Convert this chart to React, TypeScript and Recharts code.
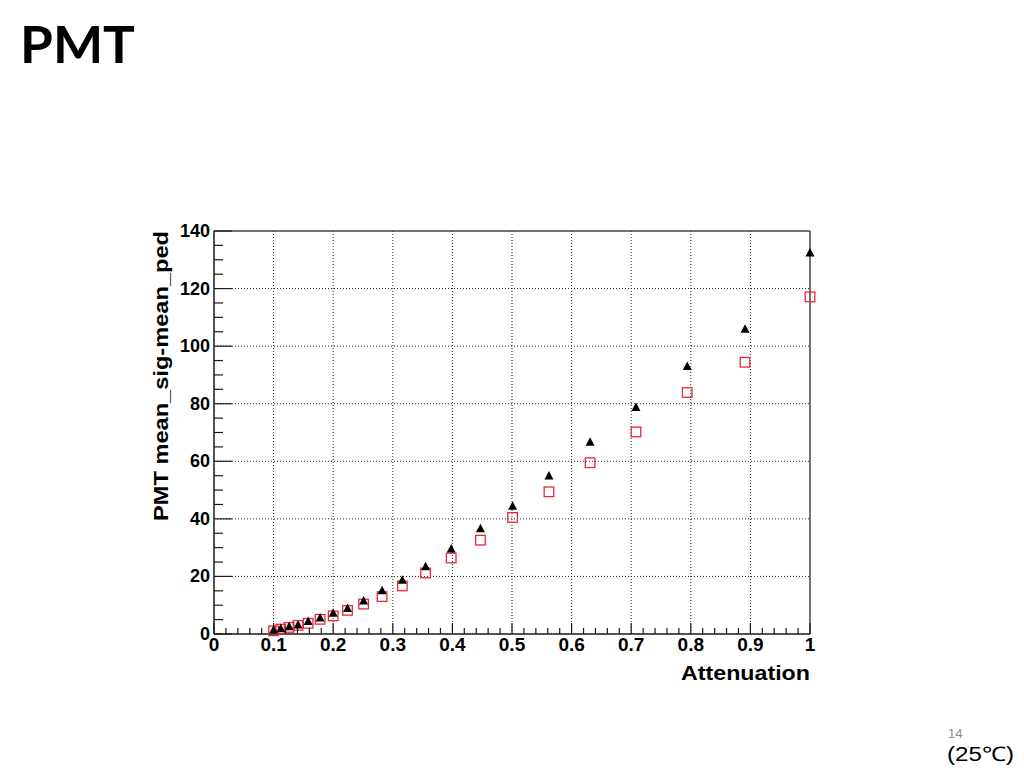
import {
  CartesianGrid,
  Label,
  ReferenceLine,
  Scatter,
  ScatterChart,
  XAxis,
  YAxis,
} from "recharts";

const ATTENUATION = [
  0.1, 0.112, 0.126, 0.141, 0.158, 0.178, 0.2, 0.224, 0.251, 0.282, 0.316,
  0.355, 0.398, 0.447, 0.501, 0.562, 0.631, 0.708, 0.794, 0.891, 1,
];
const SIGNAL_TRIANGLE = [
  1.4, 1.8, 2.5, 3.1, 4.3, 5.6, 7.2, 8.9, 11.5, 15.0, 18.7, 23.4, 29.5, 36.6,
  44.4, 54.9, 66.6, 78.7, 92.9, 105.9, 132.4,
];
const SIGNAL_SQUARE = [
  1.1, 1.7, 2.3, 3.0, 3.7, 5.1, 6.3, 8.2, 10.4, 13.0, 16.7, 21.2, 26.4, 32.6,
  40.5, 49.4, 59.5, 70.2, 83.9, 94.4, 117.1,
];

const X_MAJOR = [0, 0.1, 0.2, 0.3, 0.4, 0.5, 0.6, 0.7, 0.8, 0.9, 1];
const X_TICK_LABELS = ["0", "0.1", "0.2", "0.3", "0.4", "0.5", "0.6", "0.7", "0.8", "0.9", "1"];
const Y_MAJOR = [0, 20, 40, 60, 80, 100, 120, 140];
const Y_TICK_LABELS = ["0", "20", "40", "60", "80", "100", "120", "140"];
const X_GRID = [0.1, 0.2, 0.3, 0.4, 0.5, 0.6, 0.7, 0.8, 0.9];
const Y_GRID = [20, 40, 60, 80, 100, 120];

// 4 minor ticks between x majors, 3 between y majors
const xTicks: number[] = [];
X_MAJOR.forEach((v, i) => {
  xTicks.push(v);
  if (i < X_MAJOR.length - 1) {
    for (let k = 1; k < 5; k++) xTicks.push(+(v + (k * 0.1) / 5).toFixed(3));
  }
});
const yTicks: number[] = [];
Y_MAJOR.forEach((v, i) => {
  yTicks.push(v);
  if (i < Y_MAJOR.length - 1) {
    for (let k = 1; k < 4; k++) yTicks.push(v + k * 5);
  }
});

const triangles = ATTENUATION.map((x, i) => ({ x, y: SIGNAL_TRIANGLE[i] }));
const squares = ATTENUATION.map((x, i) => ({ x, y: SIGNAL_SQUARE[i] }));

const ROOT_FONT = "'Liberation Sans', Arial, Helvetica, sans-serif";
const AXIS_COLOR = "#1a1a1a";

const XTick = (props: any) => {
  const { x, y, payload } = props;
  const idx = X_MAJOR.findIndex((m) => Math.abs(m - payload.value) < 1e-6);
  const major = idx >= 0;
  return (
    <g>
      <line x1={x} x2={x} y1={y} y2={y - (major ? 11 : 6)} stroke={AXIS_COLOR} strokeWidth={1.2} />
      {major && (
        <text
          x={x}
          y={y + 17}
          textAnchor="middle"
          fontFamily={ROOT_FONT}
          fontWeight={700}
          fontSize={19}
          fill="#000"
        >
          {X_TICK_LABELS[idx]}
        </text>
      )}
    </g>
  );
};

const YTick = (props: any) => {
  const { x, y, payload } = props;
  const idx = Y_MAJOR.indexOf(payload.value);
  const major = idx >= 0;
  return (
    <g>
      <line x1={x} x2={x + (major ? 18 : 9)} y1={y} y2={y} stroke={AXIS_COLOR} strokeWidth={1.2} />
      {major && (
        <text
          x={x - 4}
          y={y + 6}
          textAnchor="end"
          fontFamily={ROOT_FONT}
          fontWeight={700}
          fontSize={18}
          fill="#000"
        >
          {Y_TICK_LABELS[idx]}
        </text>
      )}
    </g>
  );
};

const Triangle = (props: any) => {
  const { cx, cy } = props;
  return (
    <path
      d={`M${cx},${cy - 5} L${cx + 4.5},${cy + 3.5} L${cx - 4.5},${cy + 3.5} Z`}
      fill="#000"
    />
  );
};

const OpenSquare = (props: any) => {
  const { cx, cy } = props;
  return (
    <rect x={cx - 4.8} y={cy - 4.8} width={9.6} height={9.6} fill="none" stroke="#e8283c" strokeWidth={1.3} />
  );
};

export default function App() {
  return (
    <div style={{ position: "absolute", left: 0, top: 0, width: 1024, height: 768, background: "#fff" }}>
      <svg width={1024} height={768} style={{ position: "absolute", left: 0, top: 0 }}>
        <text
          x={20}
          y={63}
          fontFamily="Lato, 'Open Sans', sans-serif"
          fontWeight={700}
          fontSize={52}
          textLength={115}
          lengthAdjust="spacingAndGlyphs"
          fill="#000"
        >
          PMT
        </text>
        <text x={948} y={738} fontFamily="'Liberation Sans', Arial, sans-serif" fontSize={13} fill="#8c8c8c">
          14
        </text>
        <text
          x={947}
          y={761}
          fontFamily="'Liberation Sans', Arial, sans-serif"
          fontSize={20}
          fill="#000"
          textLength={67}
          lengthAdjust="spacingAndGlyphs"
        >
          (25℃)
        </text>
      </svg>
      <div style={{ position: "absolute", left: 0, top: 0 }}>
        <ScatterChart
          width={1024}
          height={768}
          margin={{ top: 231, right: 214, bottom: 104, left: 154 }}
        >
          <CartesianGrid
            horizontalValues={Y_GRID}
            verticalValues={X_GRID}
            stroke="#222"
            strokeDasharray="1 2"
            strokeWidth={1}
          />
          <XAxis
            type="number"
            dataKey="x"
            domain={[0, 1]}
            ticks={xTicks}
            interval={0}
            height={30}
            tickSize={0}
            tickMargin={0}
            tickLine={false}
            tick={<XTick />}
            axisLine={{ stroke: AXIS_COLOR, strokeWidth: 1.5 }}
          >
            <Label
              content={(p: any) => {
                const vb = p.viewBox;
                return (
                  <text
                    x={vb.x + vb.width}
                    y={vb.y + 46}
                    textAnchor="end"
                    fontFamily={ROOT_FONT}
                    fontWeight={700}
                    fontSize={21}
                    textLength={129}
                    lengthAdjust="spacingAndGlyphs"
                    fill="#000"
                  >
                    Attenuation
                  </text>
                );
              }}
            />
          </XAxis>
          <YAxis
            type="number"
            dataKey="y"
            domain={[0, 140]}
            ticks={yTicks}
            interval={0}
            width={60}
            tickSize={0}
            tickMargin={0}
            tickLine={false}
            tick={<YTick />}
            axisLine={{ stroke: AXIS_COLOR, strokeWidth: 1.5 }}
          >
            <Label
              content={(p: any) => {
                const vb = p.viewBox;
                const lx = vb.x + 14;
                const ly = vb.y;
                return (
                  <text
                    x={lx}
                    y={ly}
                    transform={`rotate(-90, ${lx}, ${ly})`}
                    textAnchor="end"
                    fontFamily={ROOT_FONT}
                    fontWeight={700}
                    fontSize={21}
                    textLength={290}
                    lengthAdjust="spacingAndGlyphs"
                    fill="#000"
                  >
                    PMT mean_sig-mean_ped
                  </text>
                );
              }}
            />
          </YAxis>
          <ReferenceLine y={140} stroke="#444" strokeWidth={1.5} />
          <ReferenceLine x={1} stroke="#444" strokeWidth={1.5} />
          <Scatter data={squares} shape={<OpenSquare />} isAnimationActive={false} />
          <Scatter data={triangles} shape={<Triangle />} isAnimationActive={false} />
        </ScatterChart>
      </div>
    </div>
  );
}
